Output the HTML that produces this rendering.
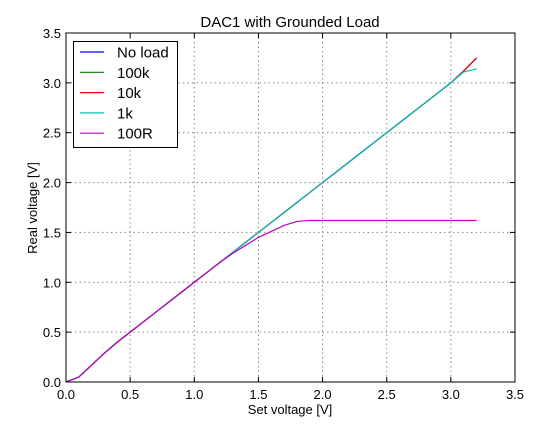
<!DOCTYPE html>
<html><head><meta charset="utf-8"><style>
body{margin:0;background:#fff;}
svg text{font-family:"Liberation Sans","DejaVu Sans",sans-serif;}
</style></head><body>
<svg id="c" width="549" height="426" xmlns="http://www.w3.org/2000/svg">
<rect width="549" height="426" fill="#fff"/>
</svg>
<script>
const xTicks=[0,0.5,1,1.5,2,2.5,3,3.5];
const yTicks=[0,0.5,1,1.5,2,2.5,3,3.5];
const setV=[0,0.1,0.2,0.3,0.4,0.5,0.6,0.7,0.8,0.9,1.0,1.1,1.2,1.3,1.4,1.5,1.6,1.7,1.8,1.9,2.0,2.1,2.2,2.3,2.4,2.5,2.6,2.7,2.8,2.9,3.0,3.1,3.2];
const noLoad=[0,0.05,0.17,0.29,0.4,0.5,0.6,0.7,0.8,0.9,1.0,1.1,1.2,1.3,1.4,1.5,1.6,1.7,1.8,1.9,2.0,2.1,2.2,2.3,2.4,2.5,2.6,2.7,2.8,2.9,3.0,3.12,3.25];
const load100k=[0,0.05,0.17,0.29,0.4,0.5,0.6,0.7,0.8,0.9,1.0,1.1,1.2,1.3,1.4,1.5,1.6,1.7,1.8,1.9,2.0,2.1,2.2,2.3,2.4,2.5,2.6,2.7,2.8,2.9,3.0,3.12,3.25];
const load10k=[0,0.05,0.17,0.29,0.4,0.5,0.6,0.7,0.8,0.9,1.0,1.1,1.2,1.3,1.4,1.5,1.6,1.7,1.8,1.9,2.0,2.1,2.2,2.3,2.4,2.5,2.6,2.7,2.8,2.9,3.0,3.12,3.25];
const load1k=[0,0.05,0.17,0.29,0.4,0.5,0.6,0.7,0.8,0.9,1.0,1.1,1.2,1.3,1.4,1.5,1.6,1.7,1.8,1.9,2.0,2.1,2.2,2.3,2.4,2.5,2.6,2.7,2.8,2.9,3.0,3.11,3.14];
const load100R=[0,0.05,0.17,0.29,0.4,0.5,0.6,0.7,0.8,0.9,1.0,1.1,1.2,1.29,1.37,1.45,1.51,1.57,1.61,1.62,1.62,1.62,1.62,1.62,1.62,1.62,1.62,1.62,1.62,1.62,1.62,1.62,1.62];
const seriesNames=["No load","100k","10k","1k","100R"];
const seriesColors=["#0000ff","#008000","#ff0000","#00bfbf","#bf00bf"];
const seriesData=[noLoad,load100k,load10k,load1k,load100R];

const L=66,R=515,T=33,B=382;
const sx=v=>L+v/3.5*(R-L);
const sy=v=>B-v/3.5*(B-T);
const svg=document.getElementById('c');
const NS='http://www.w3.org/2000/svg';
function mk(tag,attrs,parent){const e=document.createElementNS(NS,tag);for(const k in attrs)e.setAttribute(k,attrs[k]);(parent||svg).appendChild(e);return e;}

// grid
xTicks.forEach(t=>{
  const g=mk('line',{x1:sx(t),x2:sx(t),y1:T,y2:B,stroke:'#888','stroke-dasharray':'1.5,3','stroke-width':1});
  
  
  const tk=mk('text',{x:sx(t),y:B+17,'text-anchor':'middle','font-size':13});
  tk.textContent=t.toFixed(1);
  
  
  mk('line',{x1:sx(t),x2:sx(t),y1:B,y2:B-5,stroke:'#000'});
  mk('line',{x1:sx(t),x2:sx(t),y1:T,y2:T+5,stroke:'#000'});
});
yTicks.forEach(t=>{
  const g=mk('line',{x1:L,x2:R,y1:sy(t),y2:sy(t),stroke:'#888','stroke-dasharray':'1.5,3','stroke-width':1});
  
  
  const tk=mk('text',{x:L-5,y:sy(t)+5,'text-anchor':'end','font-size':13});
  tk.textContent=t.toFixed(1);
  
  
  mk('line',{x1:L,x2:L+5,y1:sy(t),y2:sy(t),stroke:'#000'});
  mk('line',{x1:R,x2:R-5,y1:sy(t),y2:sy(t),stroke:'#000'});
});

// series
seriesData.forEach((d,i)=>{
  const pts=setV.map((x,j)=>sx(x)+','+sy(d[j])).join(' ');
  const p=mk('polyline',{points:pts,fill:'none',stroke:seriesColors[i],'stroke-width':1.2});
  
  
});

// frame
const fr=mk('rect',{x:L,y:T,width:R-L,height:B-T,fill:'none',stroke:'#000','stroke-width':1});



// legend
const lg=mk('g',{});


mk('rect',{x:73.5,y:41.5,width:104,height:106,fill:'#fff',stroke:'#000'},lg);
seriesNames.forEach((n,i)=>{
  const y=52+i*20.3;
  const e=mk('g',{},lg);
  
  
  mk('line',{x1:80,x2:104,y1:y,y2:y,stroke:seriesColors[i],'stroke-width':1.2},e);
  const t=mk('text',{x:117,y:y+5.5,'font-size':15},e);
  t.textContent=n;
});

// titles
const ti=mk('text',{x:290,y:27,'text-anchor':'middle','font-size':15});
ti.textContent='DAC1 with Grounded Load';


const xt=mk('text',{x:290,y:414,'text-anchor':'middle','font-size':13});
xt.textContent='Set voltage [V]';


const yt=mk('text',{x:0,y:0,'text-anchor':'middle','font-size':13,transform:'translate(37,208) rotate(-90)'});
yt.textContent='Real voltage [V]';


</script>
</body></html>
